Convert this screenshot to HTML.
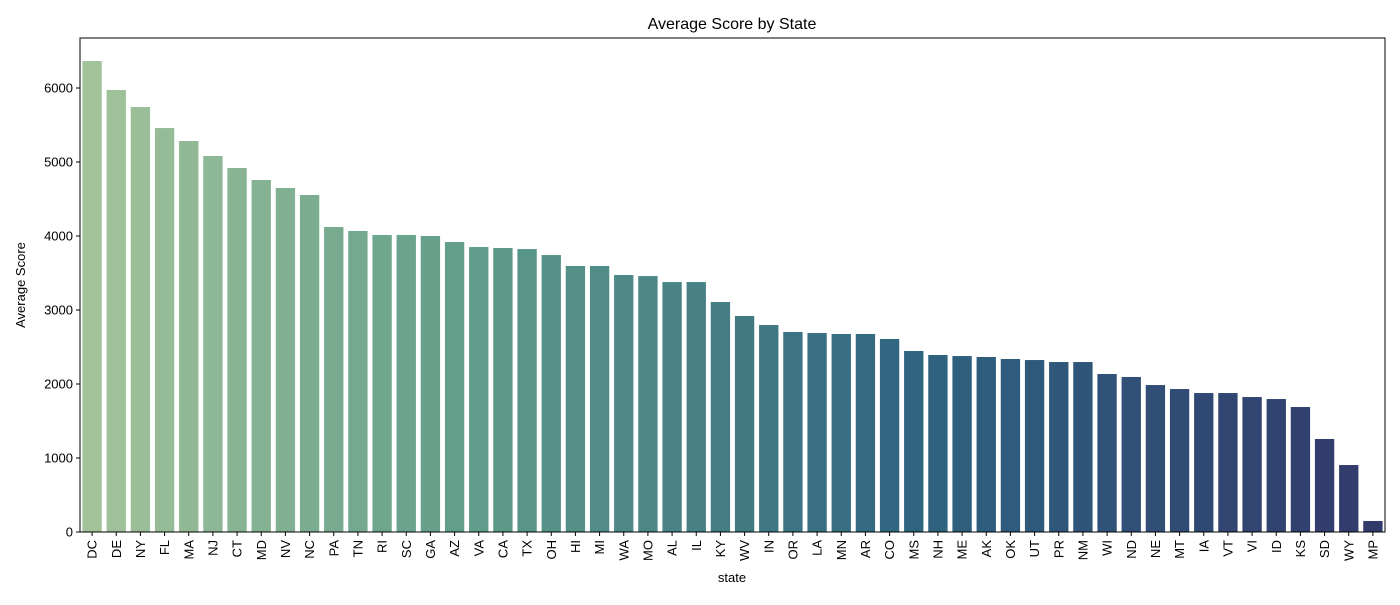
<!DOCTYPE html>
<html><head><meta charset="utf-8"><style>
body{margin:0;background:#fff;font-family:"Liberation Sans","DejaVu Sans",sans-serif;}
</style></head><body>
<svg id="chart" width="1400" height="600" xmlns="http://www.w3.org/2000/svg">
<text x="732" y="29" text-anchor="middle" font-size="16">Average Score by State</text>
<g id="plot"></g>
<rect x="80" y="38" width="1305" height="494" fill="none" stroke="#000" stroke-width="1"/>
<text x="732" y="582" text-anchor="middle" font-size="13">state</text>
<text transform="translate(25,285) rotate(-90)" text-anchor="middle" font-size="13">Average Score</text>
</svg>
<script>
const states=["DC","DE","NY","FL","MA","NJ","CT","MD","NV","NC","PA","TN","RI","SC","GA","AZ","VA","CA","TX","OH","HI","MI","WA","MO","AL","IL","KY","WV","IN","OR","LA","MN","AR","CO","MS","NH","ME","AK","OK","UT","PR","NM","WI","ND","NE","MT","IA","VT","VI","ID","KS","SD","WY","MP"];
const scores=[6365,5973,5743,5459,5284,5081,4919,4757,4649,4554,4122,4068,4014,4014,4000,3919,3851,3838,3824,3743,3595,3595,3473,3459,3378,3378,3108,2919,2797,2703,2689,2676,2676,2608,2446,2392,2378,2365,2338,2324,2297,2297,2135,2095,1986,1932,1878,1878,1824,1797,1689,1257,905,149];
const yTicks=[0,1000,2000,3000,4000,5000,6000];
const X0=80,X1=1385,Y0=532,Y1=38,YMAX=6676;
const ns="http://www.w3.org/2000/svg";
const g=document.getElementById('plot');
const y=v=>Y0-(v/YMAX)*(Y0-Y1);
const step=(X1-X0)/states.length;
const xc=i=>X0+step*(i+0.5);
const stops=[[0,[162,195,154]],[0.3,[95,156,138]],[0.65,[46,99,128]],[1,[50,58,108]]];
function col(t){for(let k=0;k<stops.length-1;k++){const a=stops[k],b=stops[k+1];if(t<=b[0]){const f=(t-a[0])/(b[0]-a[0]);return 'rgb('+a[1].map((c,j)=>Math.round(c+(b[1][j]-c)*f)).join(',')+')';}}return 'rgb(50,58,108)';}
function el(tag,attrs){const e=document.createElementNS(ns,tag);for(const k in attrs)e.setAttribute(k,attrs[k]);return e;}
yTicks.forEach(v=>{
  const l=el('line',{x1:X0-4,x2:X0,y1:y(v),y2:y(v),stroke:'#000'});
  
  
  g.appendChild(l);
  const t=el('text',{x:X0-7,y:y(v)+4.5,'text-anchor':'end','font-size':'13'});
  
  
  t.textContent=v;g.appendChild(t);
});
states.forEach((s,i)=>{
  const w=step*0.8;
  const r=el('rect',{x:xc(i)-w/2,y:y(scores[i]),width:w,height:Y0-y(scores[i]),fill:col(i/(states.length-1))});
  
  
  g.appendChild(r);
  const tk=el('line',{x1:xc(i),x2:xc(i),y1:Y0,y2:Y0+4,stroke:'#000'});
  
  
  g.appendChild(tk);
  const t=el('text',{transform:'translate('+(xc(i)+4.5)+','+(Y0+8)+') rotate(-90)','text-anchor':'end','font-size':'13'});
  
  
  t.textContent=s;g.appendChild(t);
});
</script>
</body></html>
